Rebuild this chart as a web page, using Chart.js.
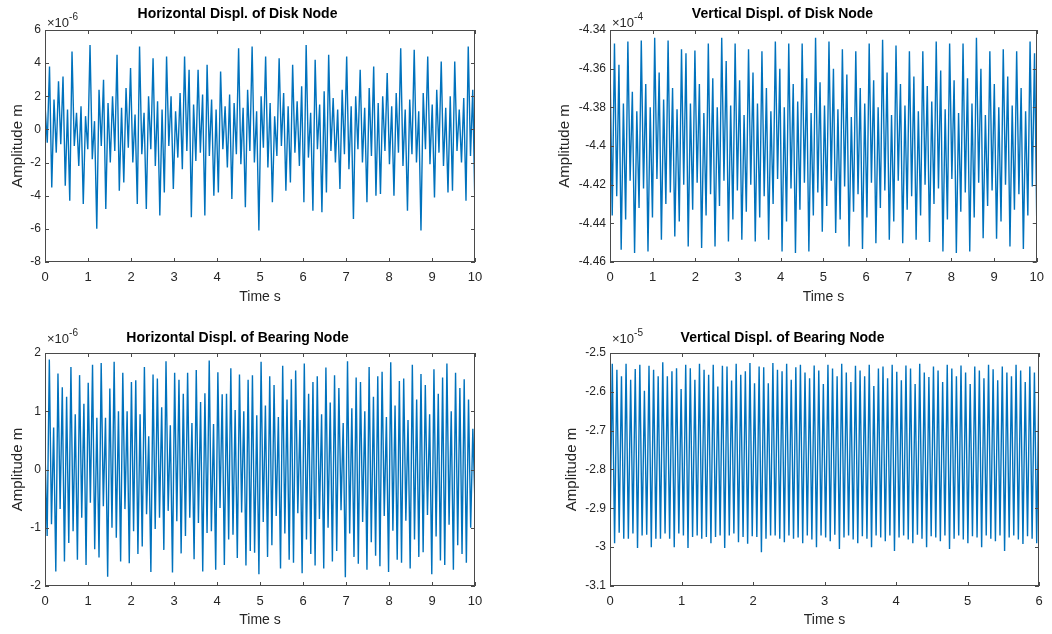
<!DOCTYPE html>
<html><head><meta charset="utf-8">
<script src="https://cdn.jsdelivr.net/npm/chart.js@4.4.1/dist/chart.umd.min.js"></script>
<style>
html,body{margin:0;padding:0;background:#fff;}
#wrap{position:relative;width:1052px;height:634px;overflow:hidden;}
.cell{position:absolute;width:526px;height:317px;}
</style></head><body>
<div id="wrap">
<div class="cell" style="left:0;top:0"><canvas id="c1" width="526" height="317"></canvas></div>
<div class="cell" style="left:526px;top:0"><canvas id="c2" width="526" height="317"></canvas></div>
<div class="cell" style="left:0;top:317px"><canvas id="c3" width="526" height="317"></canvas></div>
<div class="cell" style="left:526px;top:317px"><canvas id="c4" width="526" height="317"></canvas></div>
</div>
<script>
// ---------- data (values in the displayed axis units) ----------
// Horizontal displ. of disk node (x1e-6 m), 0..10 s : local maxima / minima
const hDiskPeaks = [1.5,3.8,1.8,2.9,3.2,1.2,4.7,1.0,1.4,0.8,
 5.1,0.5,2.4,3.0,1.6,2.0,4.5,1.3,2.5,3.7,
 0.9,5.0,1.0,2.0,4.3,1.7,1.2,4.4,2.0,1.1,
 2.2,4.4,3.6,1.5,3.6,2.1,3.9,1.8,1.2,3.5,
 1.4,2.1,1.6,4.9,1.3,2.4,5.0,1.1,2.0,4.4,
 1.6,0.8,4.3,2.2,1.4,3.9,1.7,2.6,5.1,1.0,
 4.2,1.5,2.3,4.5,1.9,1.2,2.4,4.4,1.4,2.0,
 3.6,1.3,2.5,3.8,1.6,2.0,3.4,1.4,2.2,4.9,
 1.2,1.8,4.8,1.1,2.2,4.4,1.5,2.4,4.1,1.3,
 2.0,4.1,1.2,1.9,5.0,2.4];
const hDiskTroughs = [-0.8,-3.5,-1.4,-0.9,-3.4,-4.3,-1.0,-2.2,-4.5,-1.2,
 -1.8,-6.0,-1.0,-4.8,-2.0,-1.3,-3.7,-3.2,-1.1,-2.0,
 -4.5,-1.5,-4.8,-1.2,-2.2,-5.2,-3.8,-1.0,-3.6,-1.7,
 -2.4,-1.3,-5.3,-1.9,-1.4,-5.2,-1.6,-4.0,-3.8,-1.2,
 -2.3,-4.2,-1.5,-2.1,-4.7,-1.3,-2.0,-6.1,-1.1,-2.3,
 -4.4,-1.6,-1.0,-3.7,-3.2,-1.4,-2.2,-4.4,-1.7,-4.9,
 -1.2,-5.0,-3.8,-1.3,-2.0,-3.6,-1.5,-2.4,-5.4,-1.2,
 -2.0,-4.4,-1.6,-4.0,-3.9,-1.3,-2.1,-4.0,-1.4,-2.2,
 -4.9,-1.5,-2.0,-6.1,-1.2,-2.1,-4.1,-1.4,-2.2,-3.8,
 -3.7,-1.3,-2.0,-4.3,-1.6,-5.0];

// Vertical displ. of disk node (x1e-4 m), 0..10 s
const vDiskPeaks = [-4.356,-4.347,-4.358, -4.378,-4.346,-4.372, -4.382,-4.3455,-4.368, -4.380,-4.344,-4.362,
 -4.376,-4.3455,-4.370, -4.381,-4.350,-4.352, -4.378,-4.3506,-4.368, -4.383,-4.347,-4.365,
 -4.380,-4.344,-4.356, -4.379,-4.347,-4.366, -4.384,-4.350,-4.362, -4.378,-4.351,-4.370,
 -4.382,-4.346,-4.360, -4.380,-4.347,-4.368, -4.377,-4.347,-4.365, -4.383,-4.344,-4.367,
 -4.379,-4.346,-4.360, -4.381,-4.350,-4.363, -4.385,-4.351,-4.370, -4.378,-4.347,-4.366,
 -4.380,-4.345,-4.362, -4.384,-4.348,-4.368, -4.379,-4.351,-4.364, -4.382,-4.351,-4.369,
 -4.377,-4.346,-4.361, -4.381,-4.347,-4.366, -4.383,-4.347,-4.365, -4.378,-4.344,-4.360,
 -4.384,-4.351,-4.368, -4.380,-4.350,-4.364, -4.379,-4.351,-4.370, -4.382,-4.346,-4.352];
const vDiskTroughs = [-4.436,-4.426,-4.4537, -4.438,-4.418,-4.4554, -4.432,-4.422,-4.4545, -4.437,-4.417,-4.4485,
 -4.430,-4.424,-4.4468, -4.439,-4.420,-4.452, -4.433,-4.419,-4.4528, -4.436,-4.425,-4.452,
 -4.431,-4.418,-4.4494, -4.438,-4.423,-4.4485, -4.434,-4.420,-4.4494, -4.437,-4.426,-4.4485,
 -4.430,-4.417,-4.4545, -4.439,-4.422,-4.4554, -4.433,-4.419,-4.4545, -4.436,-4.424,-4.4443,
 -4.431,-4.418,-4.445, -4.438,-4.421,-4.452, -4.434,-4.425,-4.4533, -4.437,-4.419,-4.4503,
 -4.432,-4.423,-4.4485, -4.439,-4.418,-4.4503, -4.433,-4.426,-4.4485, -4.436,-4.420,-4.4497,
 -4.430,-4.422,-4.4545, -4.438,-4.417,-4.4554, -4.434,-4.424,-4.4545, -4.437,-4.419,-4.4477,
 -4.431,-4.423,-4.448, -4.439,-4.420,-4.452, -4.433,-4.425,-4.4533, -4.436,-4.421,-4.440];

// Horizontal displ. of bearing node (x1e-6 m), 0..10 s
const hBearPeaks = [0.3,1.89,0.72,1.65,1.41,1.25,1.76,0.95,1.62,1.13,1.49,1.80,0.89,1.83,0.89,1.39,1.85,1.0,1.66,1.0,
 1.5,1.53,0.95,1.76,0.57,1.63,1.56,1.07,1.86,0.76,1.66,1.54,1.3,1.66,0.8,1.71,1.16,1.31,1.87,0.78,
 1.67,1.29,1.3,1.74,1.02,1.63,1.0,1.54,1.62,0.93,
 1.85,1.1,1.6,1.45,0.9,1.78,1.2,1.55,1.7,0.85,1.82,1.3,1.5,1.6,0.95,1.75,1.15,1.62,1.4,0.8,
 1.86,1.05,1.58,1.5,1.0,1.76,1.25,1.6,1.68,0.9,1.84,1.1,1.52,1.56,0.85,1.8,1.2,1.64,1.45,0.95,
 1.72,1.3,1.58,1.82,1.0,1.66,1.4,1.55,1.2,0.7];
const hBearTroughs = [-1.14,-0.94,-1.75,-0.68,-1.58,-1.26,-1.06,-1.55,-0.83,-1.64,-0.57,-1.37,-1.51,-0.63,-1.84,-1.0,-1.17,-1.58,-0.68,-1.61,
 -1.06,-1.45,-1.32,-0.77,-1.76,-1.02,-0.83,-1.38,-0.71,-1.77,-0.89,-1.44,-1.14,-0.83,-1.54,-0.92,-1.75,-1.09,-1.06,-1.72,
 -0.66,-1.64,-1.2,-1.12,-1.52,-0.74,-1.65,-1.4,-1.43,
 -1.8,-0.9,-1.5,-1.3,-0.8,-1.7,-1.1,-1.55,-1.6,-0.75,-1.78,-1.2,-1.45,-1.65,-0.85,-1.7,-1.0,-1.58,-1.4,-0.7,
 -1.85,-1.1,-1.5,-1.62,-0.9,-1.72,-1.25,-1.48,-1.66,-0.8,-1.76,-1.05,-1.55,-1.6,-0.88,-1.7,-1.2,-1.5,-1.42,-0.78,
 -1.8,-1.15,-1.56,-1.64,-0.95,-1.72,-1.3,-1.45,-1.6,-1.0,-0.6];

// Vertical displ. of bearing node (x1e-5 m), 0..6 s
const vBearTroughs = [-2.972,-2.990,-2.963,-2.978,-2.978,-2.965,-3.002,-2.970,-2.968,-3.0,-2.978,-2.978,-2.965,-2.978,-3.0,-2.965,-2.970,-3.002,-2.974,-2.970,
 -2.978,-2.974,-2.990,-2.974,-2.970,-3.002,-2.970,-2.965,-2.987,-2.974,-2.991,-2.972,-2.974,-3.013,-2.978,-2.970,-2.970,-2.978,-2.987,-2.970,-2.978,
 -2.975,-2.99,-2.97,-2.98,-3.0,-2.97,-2.975,-2.985,-2.968,-3.005,-2.975,-2.97,-2.98,-2.99,-2.972,-2.978,-3.0,-2.97,-2.975,-2.985,
 -2.97,-3.01,-2.975,-2.97,-2.98,-2.99,-2.968,-2.978,-3.0,-2.972,-2.975,-2.985,-2.97,-3.005,-2.978,-2.97,-2.98,-2.99,-2.972,-2.975,
 -3.0,-2.97,-2.978,-2.985,-2.97,-3.01,-2.975,-2.97,-2.98,-2.992,-2.972,-2.978,-2.99];
const vBearPeaks = [-2.528,-2.543,-2.56,-2.528,-2.569,-2.541,-2.53,-2.597,-2.533,-2.543,-2.56,-2.524,-2.56,-2.547,-2.539,-2.593,-2.53,-2.539,-2.569,-2.528,
 -2.543,-2.556,-2.53,-2.586,-2.533,-2.535,-2.571,-2.528,-2.556,-2.547,-2.526,-2.578,-2.535,-2.537,-2.578,-2.526,-2.543,-2.547,-2.528,-2.569,-2.537,
 -2.53,-2.55,-2.565,-2.532,-2.545,-2.58,-2.53,-2.54,-2.56,-2.528,-2.55,-2.575,-2.533,-2.545,-2.56,-2.53,-2.585,-2.54,-2.535,-2.565,
 -2.53,-2.548,-2.57,-2.532,-2.54,-2.58,-2.528,-2.55,-2.562,-2.535,-2.545,-2.575,-2.53,-2.54,-2.56,-2.532,-2.55,-2.58,-2.535,-2.545,
 -2.565,-2.53,-2.542,-2.57,-2.535,-2.55,-2.56,-2.53,-2.545,-2.575,-2.535,-2.55,-2.56];

// axis tick settings
const xTicksLong = [0,1,2,3,4,5,6,7,8,9,10];
const xTicksShort = [0,1,2,3,4,5,6];

// ---------- helpers ----------
const FONT = "'Liberation Sans', Arial, Helvetica, sans-serif";
const LINE = '#0072BD';
const TXT = '#262626';

function interleave(a, b) {
  const out = [];
  const n = Math.max(a.length, b.length);
  for (let i = 0; i < n; i++) {
    if (i < a.length) out.push(a[i]);
    if (i < b.length) out.push(b[i]);
  }
  return out;
}
function toPoints(values, tEnd) {
  const n = values.length;
  return values.map((v, i) => ({ x: i * tEnd / (n - 1), y: v }));
}
const fmt = v => String(Math.round(v * 1000) / 1000);

const matlabBox = {
  id: 'matlab',
  afterDatasetsDraw(chart, args, o) {
    const { ctx, chartArea: a } = chart;
    const x = chart.scales.x, y = chart.scales.y;
    ctx.save();
    ctx.strokeStyle = '#4a4a4a';
    ctx.lineWidth = 1;
    ctx.strokeRect(Math.round(a.left) + 0.5, Math.round(a.top) + 0.5, Math.round(a.width) - 1, Math.round(a.height) - 1);
    const L = 4;
    ctx.beginPath();
    x.ticks.forEach(t => {
      const px = Math.round(x.getPixelForValue(t.value)) + 0.5;
      ctx.moveTo(px, a.bottom); ctx.lineTo(px, a.bottom - L);
      ctx.moveTo(px, a.top); ctx.lineTo(px, a.top + L);
    });
    y.ticks.forEach(t => {
      const py = Math.round(y.getPixelForValue(t.value)) + 0.5;
      ctx.moveTo(a.left, py); ctx.lineTo(a.left + L, py);
      ctx.moveTo(a.right, py); ctx.lineTo(a.right - L, py);
    });
    ctx.stroke();
    // exponent label
    ctx.fillStyle = TXT;
    ctx.textAlign = 'left';
    ctx.textBaseline = 'alphabetic';
    ctx.font = '13px ' + FONT;
    const bx = a.left + 2, by = a.top - o.expGap;
    ctx.fillText('\u00d710', bx, by);
    const w = ctx.measureText('\u00d710').width;
    ctx.font = '10px ' + FONT;
    ctx.fillText(o.exp, bx + w, by - 7);
    ctx.restore();
  }
};

function makeChart(id, c) {
  const pts = toPoints(c.values, c.xMax);
  return new Chart(document.getElementById(id), {
    type: 'line',
    data: { datasets: [{ data: pts, borderColor: LINE, borderWidth: 1.4, pointRadius: 0, tension: 0, fill: false }] },
    options: {
      responsive: false, animation: false, events: [],
      layout: { padding: { left: 0, right: c.padRight, top: 0, bottom: 0 } },
      plugins: {
        legend: { display: false }, tooltip: { enabled: false },
        title: { display: true, text: c.title, color: '#000', font: { family: FONT, size: 14, weight: 'bold' },
                 padding: { top: c.titleTop, bottom: c.titleBottom } },
        matlab: { exp: c.exp, expGap: c.expGap }
      },
      scales: {
        x: {
          type: 'linear', min: 0, max: c.xMax,
          afterBuildTicks: s => { s.ticks = c.xTicks.map(v => ({ value: v })); },
          ticks: { color: TXT, font: { family: FONT, size: 13 }, padding: 8, maxRotation: 0, autoSkip: false },
          grid: { display: false, drawTicks: false }, border: { display: false },
          title: { display: true, text: 'Time s', color: TXT, font: { family: FONT, size: 14 }, padding: { top: 0, bottom: c.xTitlePad } },
          afterFit: s => { s.height = c.xAxisH; }
        },
        y: {
          type: 'linear', min: c.yMin, max: c.yMax,
          afterBuildTicks: s => { s.ticks = c.yTicks.map(v => ({ value: v })); },
          ticks: { color: TXT, font: { family: FONT, size: 12 }, padding: 4, callback: v => fmt(v) },
          grid: { display: false, drawTicks: false }, border: { display: false },
          title: { display: true, text: 'Amplitude m', color: TXT, font: { family: FONT, size: 15 }, padding: { top: c.yTitlePad, bottom: 0 } },
          afterFit: s => { s.width = c.yAxisW; }
        }
      }
    },
    plugins: [matlabBox]
  });
}

makeChart('c1', {
  title: 'Horizontal Displ. of Disk Node', values: interleave(hDiskPeaks, hDiskTroughs),
  xMax: 10, xTicks: xTicksLong, yMin: -8, yMax: 6, yTicks: [-8,-6,-4,-2,0,2,4,6], exp: '-6',
  padRight: 51, yAxisW: 45, xAxisH: 55, titleTop: 6, titleBottom: 7.2, xTitlePad: 11.6, yTitlePad: 9.3, expGap: 3
});
makeChart('c2', {
  title: 'Vertical Displ. of Disk Node', values: interleave(vDiskPeaks, vDiskTroughs),
  xMax: 10, xTicks: xTicksLong, yMin: -4.46, yMax: -4.34, yTicks: [-4.46,-4.44,-4.42,-4.4,-4.38,-4.36,-4.34], exp: '-4',
  padRight: 13, yAxisW: 84, xAxisH: 55, titleTop: 6, titleBottom: 7.2, xTitlePad: 11.6, yTitlePad: 30, expGap: 3
});
makeChart('c3', {
  title: 'Horizontal Displ. of Bearing Node', values: interleave(hBearPeaks, hBearTroughs),
  xMax: 10, xTicks: xTicksLong, yMin: -2, yMax: 2, yTicks: [-2,-1,0,1,2], exp: '-6',
  padRight: 51, yAxisW: 45, xAxisH: 48, titleTop: 12.3, titleBottom: 6.9, xTitlePad: 5.6, yTitlePad: 9.3, expGap: 10
});
makeChart('c4', {
  title: 'Vertical Displ. of Bearing Node', values: interleave(vBearTroughs, vBearPeaks),
  xMax: 6, xTicks: xTicksShort, yMin: -3.1, yMax: -2.5, yTicks: [-3.1,-3,-2.9,-2.8,-2.7,-2.6,-2.5], exp: '-5',
  padRight: 13, yAxisW: 84, xAxisH: 48, titleTop: 12.3, titleBottom: 6.9, xTitlePad: 5.6, yTitlePad: 36.5, expGap: 10
});
</script>
</body></html>
